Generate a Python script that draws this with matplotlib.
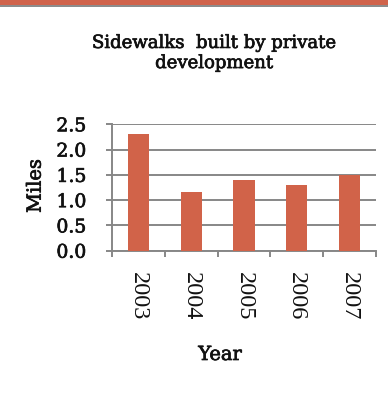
import matplotlib
matplotlib.use("Agg")
import matplotlib.pyplot as plt
import matplotlib.patheffects as pe
from matplotlib.patches import Rectangle

years = ["2003", "2004", "2005", "2006", "2007"]
miles = [2.3, 1.16, 1.40, 1.30, 1.49]
yticks = [0.0, 0.5, 1.0, 1.5, 2.0, 2.5]

bar_color = "#D16349"
grid_color = "#878787"
serif = "DejaVu Serif"
heavy = [pe.withStroke(linewidth=0.5, foreground="#111111")]

fig = plt.figure(figsize=(3.88, 3.93), dpi=100)
fig.patch.set_facecolor("white")

# decorative band across the top edge
fig.patches.append(Rectangle((0, 1 - 4.7 / 393), 1, 4.7 / 393, transform=fig.transFigure,
                             facecolor="#D0634B", edgecolor="none", zorder=0))
fig.patches.append(Rectangle((0, 1 - 7.2 / 393), 1, 2.5 / 393, transform=fig.transFigure,
                             facecolor="#8C8C8C", edgecolor="none", zorder=0))

ax = fig.add_axes([112 / 388, (393 - 250.7) / 393, (376 - 112) / 388, (250.7 - 124.3) / 393])

x = range(len(years))
ax.bar(x, miles, width=0.4, color=bar_color, zorder=3)

ax.set_xlim(-0.5, len(years) - 0.5)
ax.set_ylim(0, 2.5)
ax.set_yticks(yticks)
ax.set_yticklabels([f"{v:.1f}" for v in yticks], fontfamily=serif, fontsize=13.5,
                   color="#111111")
for lbl in ax.get_yticklabels():
    lbl.set_path_effects(heavy)
ax.yaxis.grid(True, color=grid_color, linewidth=1.4, zorder=0)
ax.set_axisbelow(True)

# boundary ticks between categories, labels at category centres
ax.set_xticks([i - 0.5 for i in range(len(years) + 1)])
ax.set_xticklabels([])
ax.set_xticks(list(x), minor=True)
ax.set_xticklabels(years, minor=True, rotation=270, fontfamily="Liberation Serif",
                   fontsize=17.5, va="top", ha="center", color="#111111")
ax.tick_params(axis="x", which="major", length=4, width=1.4, color=grid_color, direction="out")
ax.tick_params(axis="x", which="minor", length=0, pad=15)
ax.tick_params(axis="y", length=4.5, width=1.4, color=grid_color, pad=14)

for side in ("top", "right"):
    ax.spines[side].set_visible(False)
for side in ("left", "bottom"):
    ax.spines[side].set_color(grid_color)
    ax.spines[side].set_linewidth(1.4)

fig.text(214 / 388, 1 - 53 / 393, "Sidewalks  built by private\ndevelopment",
         ha="center", va="center", fontfamily=serif, fontsize=13, linespacing=1.15,
         color="#111111", path_effects=heavy)
fig.text(35.7 / 388, 1 - 186 / 393, "Miles", rotation=90, ha="center", va="center",
         fontfamily=serif, fontsize=14, color="#111111", path_effects=heavy)
fig.text(220 / 388, 1 - 355 / 393, "Year", ha="center", va="center",
         fontfamily=serif, fontsize=14, color="#111111", path_effects=heavy)

fig.savefig("out.png", dpi=100)
